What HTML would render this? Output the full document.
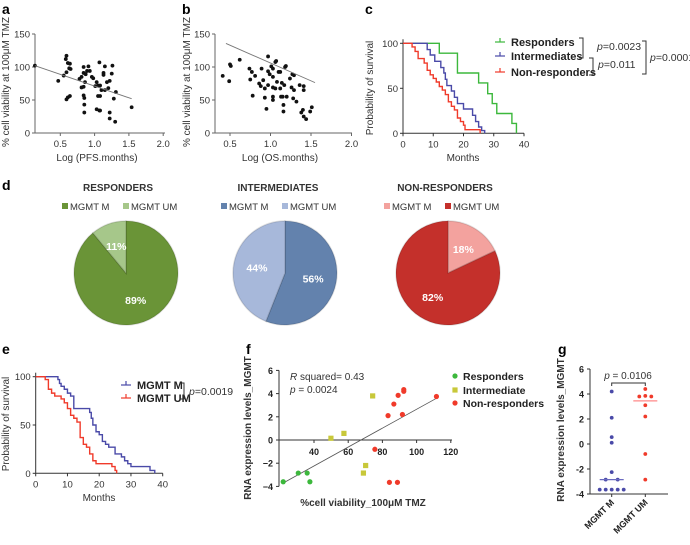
<!DOCTYPE html>
<html><head><meta charset="utf-8"><style>
html,body{margin:0;padding:0;background:#fff;}
svg{display:block;font-family:"Liberation Sans",Arial,sans-serif;}
.t{font-size:10px;fill:#333;}
.b{font-weight:bold;}
</style></head><body>
<svg id="fig" width="690" height="545" viewBox="0 0 690 545">
<g font-weight="bold" font-size="14" fill="#000">
<text x="2" y="14">a</text>
<text x="182" y="14">b</text>
<text x="365" y="14">c</text>
<text x="2" y="190">d</text>
<text x="2" y="354">e</text>
<text x="246" y="354">f</text>
<text x="558" y="354">g</text>
</g>
<text class="t" x="97" y="161" text-anchor="middle">Log (PFS.months)</text>
<text class="t" x="280" y="161" text-anchor="middle">Log (OS.months)</text>
<text class="t" x="463" y="161" text-anchor="middle">Months</text>
<text class="t" x="99" y="501" text-anchor="middle">Months</text>
<text class="t" transform="translate(9,82) rotate(-90)" text-anchor="middle">% cell viability at 100μM TMZ</text>
<text class="t" transform="translate(190,82) rotate(-90)" text-anchor="middle">% cell viability at 100μM TMZ</text>
<text class="t" transform="translate(373,88) rotate(-90)" text-anchor="middle">Probability of survival</text>
<text class="t" transform="translate(9,424) rotate(-90)" text-anchor="middle">Probability of survival</text>
<text class="t b" font-size="9.5" fill="#000" transform="translate(251,428) rotate(-90)" text-anchor="middle">RNA expression levels_MGMT</text>
<text class="t b" font-size="9.5" fill="#000" transform="translate(564,430) rotate(-90)" text-anchor="middle">RNA expression levels_MGMT</text>
<text class="t b" font-size="9.5" fill="#000" x="363" y="506" text-anchor="middle">%cell viability_100μM TMZ</text>
<text class="t" x="290" y="380" font-size="10.5" fill="#222"><tspan font-style="italic">R</tspan> squared= 0.43</text>
<text class="t" x="290" y="393" font-size="10.5" fill="#222"><tspan font-style="italic">p</tspan> = 0.0024</text>
<g class="t b" font-size="10" fill="#333">
<text x="118" y="191" text-anchor="middle">RESPONDERS</text>
<text x="278" y="191" text-anchor="middle">INTERMEDIATES</text>
<text x="445" y="191" text-anchor="middle">NON-RESPONDERS</text>
</g>
<g id="plot"></g>
</svg>
<script>
// ---------- data ----------
const aX=[0.13,0.47,0.55,0.58,0.59,0.61,0.59,0.63,0.64,0.65,0.59,0.61,0.64,0.78,0.81,0.84,0.84,0.86,0.87,0.89,0.91,0.93,0.84,0.81,0.84,0.85,0.85,0.85,0.96,0.98,1.01,1.03,1.05,1.07,1.08,1.05,1.08,1.03,1.07,1.08,1.10,1.13,1.13,1.15,1.15,1.18,1.20,1.22,1.25,1.26,1.22,1.22,1.30,1.28,1.31,1.54];
const aY=[102,79,87,112,117,106,92,98,105,97,51,54,56,82,85,100,91,77,89,94,101,94,70,69,57,53,43,31,85,83,71,77,72,107,72,56,56,36,34,34,65,91,88,101,65,77,68,79,90,102,31,22,17,52,62,39];
const aFit=[106.6,-35.5];
const bX=[0.41,0.49,0.5,0.51,0.62,0.74,0.75,0.77,0.78,0.81,0.86,0.88,0.89,0.91,0.93,0.95,0.93,0.97,0.97,0.97,0.99,1.01,1.03,1.03,1.03,1.03,1.03,1.06,1.06,1.07,1.08,1.10,1.12,1.13,1.12,1.14,1.15,1.16,1.16,1.17,1.18,1.19,1.20,1.24,1.26,1.27,1.28,1.29,1.29,1.32,1.36,1.38,1.40,1.41,1.41,1.41,1.44,1.49,1.51];
const bY=[86.5,78.5,104,101.5,111,97.5,81,92.5,56.5,86.5,75,71,97.5,80,53.5,36.5,67.5,72.5,116,93.5,89,101,97.5,85,69,55,50,67.5,107.5,109,77.5,92.5,92.5,55,67.5,76,55,32.5,42.5,72.5,100,101.5,55,82.5,69,89,52.5,65,87.5,47.5,72.5,31,35,65,71,25,21,32.5,39];
const bFit=[133,-54];
const abXTicks=[0.5,1.0,1.5,2.0];
const abYTicks=[0,50,100,150];
const cGreenT=[12,18,25,28,29.5,31,36,37.5];
const cGreenS=[89,67,56,44,33,22,11,0];
const cBlueT=[8,9,10.5,12.5,13.5,14,14.5,16,17,18,20,23,24,25,26,27];
const cBlueS=[93,87,80,73,67,60,53,47,40,33,27,20,13,7,3,0];
const cRedT=[3,4,5,7,8,9,10,11,12,13,14,15,16,17,18,19,20,20.5,25.5];
const cRedS=[96,91,83,78,70,65,61,57,52,48,43,35,30,26,17,13,9,4,0];
const eBlueT=[7,7.5,8,9,10,11,12,17,17.5,18,19,20,21,22,23,25,27,28,29,30,36,37.5];
const eBlueS=[97,93,90,87,83,80,67,63,57,50,43,40,33,30,27,20,17,13,10,7,3,0];
const eRedT=[3,4,5,6,8,9,10,11,12,13,14,15,16,17,18,19,24,25,25.5];
const eRedS=[97,87,83,80,77,73,67,60,57,53,37,30,27,20,13,10,7,3,0];
const kmXTicks=[0,10,20,30,40];
const kmYTicks=[0,50,100];
const pieGroups=["RESPONDERS","INTERMEDIATES","NON-RESPONDERS"];
const pieM=[89,56,18];
const pieUM=[11,44,82];
const fGreenX=[22,30.8,36,37.6];
const fGreenY=[-3.6,-2.85,-2.85,-3.6];
const fYellowX=[49.9,57.5,74.3,70.2,68.9];
const fYellowY=[0.15,0.57,3.8,-2.2,-2.85];
const fRedX=[75.6,83.3,86.7,89.2,92.5,92.5,91.7,84.1,88.8,111.6];
const fRedY=[-0.8,2.1,3.1,3.85,4.2,4.35,2.2,-3.65,-3.65,3.75];
const fFit=[-5.5,0.0815];
const fXTicks=[40,60,80,100,120];
const fYTicks=[6,4,2,0,-2,-4];
const gCats=["MGMT M","MGMT UM"];
const gMVals=[4.2,2.1,0.55,0.1,-2.25,-2.85,-2.85,-3.65,-3.65,-3.65,-3.65,-3.65];
const gMOff=[0,0,0,0,0,-1,1,-2,-1,0,1,2];
const gUMVals=[4.4,3.8,3.85,3.8,3.1,2.2,-0.8,-2.85];
const gUMOff=[0,-1,0,1,0,0,0,0];
const gMedians=[-2.85,3.45];
const gYTicks=[6,4,2,0,-2,-4];

// ---------- helpers ----------
const NS="http://www.w3.org/2000/svg";
const root=document.getElementById('plot');
function mk(tag,attrs,name,parent){
  const e=document.createElementNS(NS,tag);
  for(const k in attrs)e.setAttribute(k,attrs[k]);
  
  
  (parent||root).appendChild(e);
  return e;
}
function txt(x,y,s,name,opts){
  const o=Object.assign({x:x,y:y,'font-size':9.5,fill:'#333'},opts||{});
  const e=mk('text',o,name);
  e.textContent=s;
  return e;
}
function line(x1,y1,x2,y2,name,col,w){return mk('line',{x1:x1,y1:y1,x2:x2,y2:y2,stroke:col||'#555','stroke-width':w||1},name);}

// ---------- panels a & b ----------
function scatterPanel(px,py,xs,ys,fit,fx0,fx1,ax0,ax1,pre){
  const yS=v=>133-v*0.66;
  line(ax0,34,ax0,133,pre+'-y-axis','#666');
  line(ax0,133,ax1,133,pre+'-x-axis','#666');
  abYTicks.forEach(v=>{line(ax0-3,yS(v),ax0,yS(v),pre+'-y-tick','#666');txt(ax0-5,yS(v)+3.5,String(v),pre+'-y-tick-label',{'text-anchor':'end'});});
  abXTicks.forEach(v=>{line(px(v),133,px(v),136,pre+'-x-tick','#666');txt(px(v),147,v.toFixed(1),pre+'-x-tick-label',{'text-anchor':'middle'});});
  xs.forEach((x,i)=>mk('circle',{cx:px(x),cy:yS(ys[i]),r:1.9,fill:'#111'},pre+'-point'));
  mk('line',{x1:px(fx0),y1:yS(fit[0]+fit[1]*fx0),x2:px(fx1),y2:yS(fit[0]+fit[1]*fx1),stroke:'#777','stroke-width':0.9},pre+'-regression-line');
}
const xA=v=>26+68.6*v;
scatterPanel(xA,null,aX,aY,aFit,0.13,1.54,35,165,'a');
const xB=v=>189.5+81*v;
scatterPanel(xB,null,bX,bY,[bFit[0]-bFit[1]*0.5,bFit[1]],0.45,1.55,215,352,'b');

// ---------- KM panels ----------
function km(x0,x1,y0,y1,series,pre){
  const xs=v=>x0+(x1-x0)*v/40, ys=v=>y1-(y1-y0)*v/100;
  line(x0,y0-4,x0,y1,pre+'-y-axis','#333');
  line(x0,y1,x1,y1,pre+'-x-axis','#333');
  kmYTicks.forEach(v=>{line(x0-3,ys(v),x0,ys(v),pre+'-y-tick','#333');txt(x0-5,ys(v)+3.5,String(v),pre+'-y-tick-label',{'text-anchor':'end'});});
  kmXTicks.forEach(v=>{line(xs(v),y1,xs(v),y1+3,pre+'-x-tick','#333');txt(xs(v),y1+14,String(v),pre+'-x-tick-label',{'text-anchor':'middle'});});
  series.forEach(s=>{
    let d='M'+xs(0)+','+ys(100);
    s.t.forEach((t,i)=>{d+=' H'+xs(t)+' V'+ys(s.s[i]);});
    mk('path',{d:d,fill:'none',stroke:s.c,'stroke-width':1.4},s.n);
  });
}
km(403,524,43.3,133.3,[{t:cGreenT,s:cGreenS,c:'#3cb83c',n:'km-responders'},{t:cBlueT,s:cBlueS,c:'#4a4aa8',n:'km-intermediates'},{t:cRedT,s:cRedS,c:'#f03a2a',n:'km-non-responders'}],'c');
km(35.7,162.7,376.7,473.3,[{t:eBlueT,s:eBlueS,c:'#4a4aa8',n:'km-mgmt-m'},{t:eRedT,s:eRedS,c:'#f03a2a',n:'km-mgmt-um'}],'e');

function kmLegend(x,y,col,label,name){
  line(x-5,y,x+5,y,name+'-marker',col,1.2);
  line(x,y-4,x,y,name+'-marker-tick',col,1.2);
  txt(x+11,y+4,label,name,{'font-weight':'bold','font-size':11,fill:'#222'});
}
kmLegend(500,42,'#3cb83c','Responders','legend-responders');
kmLegend(500,56,'#4a4aa8','Intermediates','legend-intermediates');
kmLegend(500,72,'#f03a2a','Non-responders','legend-non-responders');
function bracket(x,y0,y1,name){mk('path',{d:'M'+(x-4)+','+y0+' H'+x+' V'+y1+' H'+(x-4),fill:'none',stroke:'#333','stroke-width':1},name);}
bracket(583,38,58,'bracket-resp-int');
bracket(593,58,75,'bracket-int-non');
bracket(646,41,74,'bracket-resp-non');
txt(597,50,'',"p-0023",{'font-size':10.5}).innerHTML='<tspan font-style="italic">p</tspan>=0.0023';
txt(598,68,'',"p-011",{'font-size':10.5}).innerHTML='<tspan font-style="italic">p</tspan>=0.011';
txt(650,61,'',"p-0001",{'font-size':10.5}).innerHTML='<tspan font-style="italic">p</tspan>=0.0001';
kmLegend(126,385,'#4a4aa8','MGMT M','legend-mgmt-m');
kmLegend(126,398,'#f03a2a','MGMT UM','legend-mgmt-um');
bracket(184,383,399,'bracket-e');
txt(189,395,'',"p-0019",{'font-size':10.5}).innerHTML='<tspan font-style="italic">p</tspan>=0.0019';

// ---------- pies ----------
const pieCx=[126,285,448], pieCy=273, pieR=52;
const pieDark=['#6a9437','#6382ad','#c4302b'], pieLight=['#a6c78a','#a7b8da','#f3a29e'];
const mColor=[pieDark[0],pieDark[1],pieLight[2]], umColor=[pieLight[0],pieLight[1],pieDark[2]];
function arcPt(cx,cy,r,f){const a=2*Math.PI*f-Math.PI/2;return [cx+r*Math.cos(a),cy+r*Math.sin(a)];}
pieGroups.forEach((g,i)=>{
  const cx=pieCx[i], tot=pieM[i]+pieUM[i];
  const vals=[pieM[i],pieUM[i]], cols=[mColor[i],umColor[i]], nm=['pie-slice-mgmt-m','pie-slice-mgmt-um'];
  let acc=0;
  vals.forEach((v,j)=>{
    const f0=acc/tot, f1=(acc+v)/tot; acc+=v;
    const p0=arcPt(cx,pieCy,pieR,f0), p1=arcPt(cx,pieCy,pieR,f1);
    const large=(f1-f0)>0.5?1:0;
    mk('path',{d:'M'+cx+','+pieCy+' L'+p0[0]+','+p0[1]+' A'+pieR+','+pieR+' 0 '+large+' 1 '+p1[0]+','+p1[1]+' Z',fill:cols[j],stroke:'rgba(0,0,0,0.12)','stroke-width':1.5},nm[j]);
    const mid=arcPt(cx,pieCy,pieR*0.55,(f0+f1)/2);
    txt(mid[0],mid[1]+4,v+'%',nm[j]+'-label',{'text-anchor':'middle','font-weight':'bold','font-size':10.5,fill:'#fff'});
  });
  const lx=cx-64;
  mk('rect',{x:lx,y:203,width:6,height:6,fill:mColor[i]},'legend-swatch-mgmt-m');
  txt(lx+8,210,'MGMT M','legend-mgmt-m-text',{'font-size':9.5});
  mk('rect',{x:lx+61,y:203,width:6,height:6,fill:umColor[i]},'legend-swatch-mgmt-um');
  txt(lx+69,210,'MGMT UM','legend-mgmt-um-text',{'font-size':9.5});
});

// ---------- panel f ----------
const fx=v=>314+(v-40)*1.71, fy=v=>440-v*11.6;
line(279,fy(6),279,fy(-4),'f-y-axis','#333');
line(279,440,452,440,'f-x-axis','#333');
fYTicks.forEach(v=>{line(276,fy(v),279,fy(v),'f-y-tick','#333');txt(273,fy(v)+3.5,v<0?'\u2212'+(-v):String(v),'f-y-tick-label',{'text-anchor':'end','font-weight':'bold','font-size':9,fill:'#222'});});
fXTicks.forEach(v=>{line(fx(v),440,fx(v),443,'f-x-tick','#333');txt(fx(v),455,String(v),'f-x-tick-label',{'text-anchor':'middle','font-weight':'bold','font-size':9,fill:'#222'});});
mk('line',{x1:fx(22),y1:fy(fFit[0]+fFit[1]*22),x2:fx(111.6),y2:fy(fFit[0]+fFit[1]*111.6),stroke:'#555','stroke-width':0.8},'f-regression-line');
fGreenX.forEach((x,i)=>mk('circle',{cx:fx(x),cy:fy(fGreenY[i]),r:2.6,fill:'#3cb83c'},'f-point-responder'));
fYellowX.forEach((x,i)=>mk('rect',{x:fx(x)-2.6,y:fy(fYellowY[i])-2.6,width:5.2,height:5.2,fill:'#c8c83a'},'f-point-intermediate'));
fRedX.forEach((x,i)=>mk('circle',{cx:fx(x),cy:fy(fRedY[i]),r:2.6,fill:'#f03a2a'},'f-point-non-responder'));
mk('circle',{cx:455,cy:376,r:2.6,fill:'#3cb83c'},'legend-f-responders-marker');
txt(463,380,'Responders','legend-f-responders',{'font-weight':'bold','font-size':10.5,fill:'#222'});
mk('rect',{x:452.4,y:387.4,width:5.2,height:5.2,fill:'#c8c83a'},'legend-f-intermediate-marker');
txt(463,394,'Intermediate','legend-f-intermediate',{'font-weight':'bold','font-size':10.5,fill:'#222'});
mk('circle',{cx:455,cy:403,r:2.6,fill:'#f03a2a'},'legend-f-non-responders-marker');
txt(463,407,'Non-responders','legend-f-non-responders',{'font-weight':'bold','font-size':10.5,fill:'#222'});

// ---------- panel g ----------
const gy=v=>444-v*12.5, gx=[611.7,645.3], gCol=['#4a4aa8','#f03a2a'];
line(590,gy(6),590,gy(-4),'g-y-axis','#333');
line(590,gy(-4),668,gy(-4),'g-x-axis','#333');
gYTicks.forEach(v=>{line(587,gy(v),590,gy(v),'g-y-tick','#333');txt(584,gy(v)+3.5,String(v),'g-y-tick-label',{'text-anchor':'end','font-weight':'bold','font-size':9,fill:'#222'});});
gCats.forEach((c,i)=>{
  line(gx[i],gy(-4),gx[i],gy(-4)+3,'g-x-tick','#333');
  txt(gx[i]+3,gy(-4)+9,c,'g-x-tick-label',{'text-anchor':'end','font-weight':'bold','font-size':9,fill:'#222',transform:'rotate(-45 '+(gx[i]+3)+' '+(gy(-4)+9)+')'});
});
gMVals.forEach((v,i)=>mk('circle',{cx:gx[0]+gMOff[i]*6,cy:gy(v),r:1.9,fill:gCol[0]},'g-point-mgmt-m'));
gUMVals.forEach((v,i)=>mk('circle',{cx:gx[1]+gUMOff[i]*6,cy:gy(v),r:1.9,fill:gCol[1]},'g-point-mgmt-um'));
gMedians.forEach((m,i)=>line(gx[i]-12,gy(m),gx[i]+12,gy(m),'g-median-line',i?'#f88':'#6a6ac0',1.2));
mk('path',{d:'M'+gx[0]+','+386+' V383 H'+gx[1]+' V386',fill:'none',stroke:'#333','stroke-width':1},'g-significance-bracket');
txt(628,379,'',"g-p-value",{'text-anchor':'middle','font-size':10}).innerHTML='<tspan font-style="italic">p</tspan> = 0.0106';
</script>
</body></html>
